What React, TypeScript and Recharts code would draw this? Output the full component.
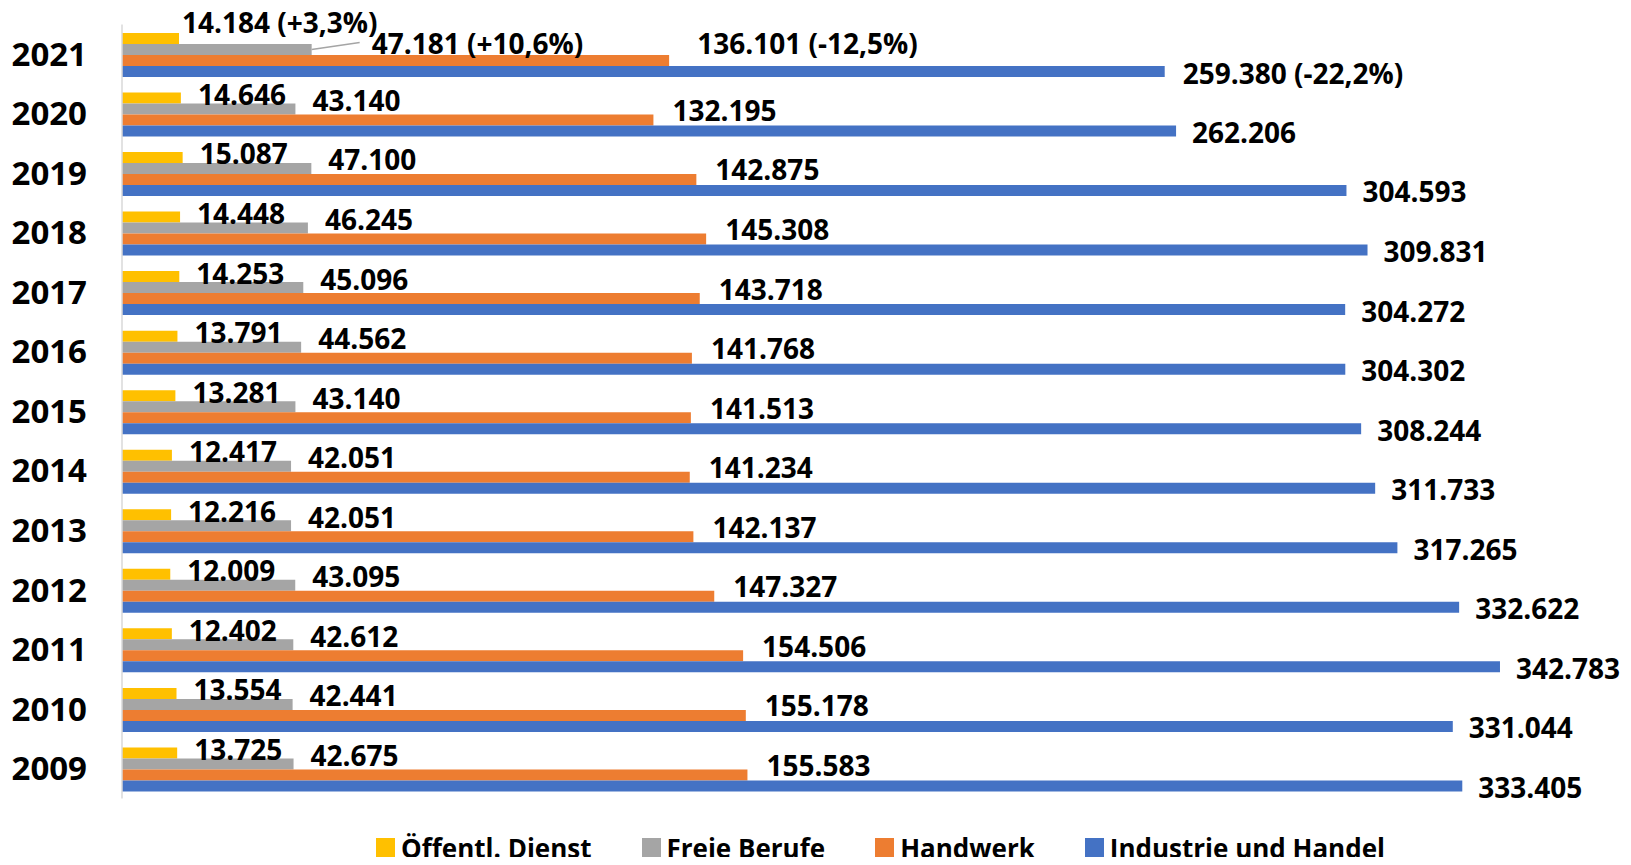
import React from 'react';
import { BarChart, Bar, XAxis, YAxis, Legend, LabelList } from 'recharts';

const years = ['2021', '2020', '2019', '2018', '2017', '2016', '2015', '2014', '2013', '2012', '2011', '2010', '2009'];
const oeffentlDienst = [14184, 14646, 15087, 14448, 14253, 13791, 13281, 12417, 12216, 12009, 12402, 13554, 13725];
const freieBerufe = [47181, 43140, 47100, 46245, 45096, 44562, 43140, 42051, 42051, 43095, 42612, 42441, 42675];
const handwerk = [136101, 132195, 142875, 145308, 143718, 141768, 141513, 141234, 142137, 147327, 154506, 155178, 155583];
const industrieHandel = [259380, 262206, 304593, 309831, 304272, 304302, 308244, 311733, 317265, 332622, 342783, 331044, 333405];
// change vs. previous year, shown only on the 2021 labels
const changes2021 = ['+3,3%', '+10,6%', '-12,5%', '-22,2%'];

const seriesNames = ['Öffentl. Dienst', 'Freie Berufe', 'Handwerk', 'Industrie und Handel'];
const seriesKeys = ['oeffentl', 'freie', 'handwerk', 'industrie'];
const colors = ['#FFC000', '#A5A5A5', '#ED7D31', '#4472C4'];

const data = years.map((year, i) => ({
  year,
  oeffentl: oeffentlDienst[i],
  freie: freieBerufe[i],
  handwerk: handwerk[i],
  industrie: industrieHandel[i],
}));

const FONT = "'Open Sans', 'DejaVu Sans', sans-serif";

const fmt = (v: number) => String(v).replace(/\B(?=(\d{3})+(?!\d))/g, '.');

// label offsets per series: [dx, dy] from bar end / bar centre
const labelOffsets = [[17, -3], [17, -8], [19, -9], [16, 2]];
const firstRowOffsets = [[3, -15], [60, -5], [28, -16], [18, 3]];

const makeLabel = (s: number) => (props: any) => {
  const vb = props.viewBox ?? props;
  const x = Number(vb.x ?? props.x);
  const y = Number(vb.y ?? props.y);
  const w = Number(vb.width ?? props.width);
  const h = Number(vb.height ?? props.height);
  const index = props.index;
  const endX = x + w;
  const cy = y + h / 2;
  const first = index === 0;
  const [dx, dy] = first ? firstRowOffsets[s] : labelOffsets[s];
  const text = first ? `${fmt(props.value)} (${changes2021[s]})` : fmt(props.value);
  return (
    <g>
      {first && s === 1 && (
        <line x1={endX} y1={cy} x2={endX + 48} y2={cy - 7} stroke="#A5A5A5" strokeWidth={1.5} />
      )}
      <text
        x={endX + dx}
        y={cy + dy + 10}
        fontFamily={FONT}
        fontWeight={700}
        fontSize={28}
        fill="#000"
      >
        {text}
      </text>
    </g>
  );
};

const YearTick = (props: any) => {
  const { y, payload } = props;
  return (
    <text x={87} y={y + 11.5} textAnchor="end" fontFamily={FONT} fontWeight={700} fontSize={33} fill="#000">
      {payload.value}
    </text>
  );
};

const renderLegend = () => (
  <div style={{ position: 'relative', height: 66.5 }}>
    <div
      style={{
        position: 'absolute',
        top: 36,
        left: 376,
        display: 'flex',
        gap: 50,
        lineHeight: '26px',
        fontFamily: FONT,
        fontWeight: 700,
        fontSize: 26,
        whiteSpace: 'nowrap',
      }}
    >
      {seriesNames.map((name, i) => (
        <div key={name} style={{ display: 'flex', alignItems: 'center', gap: 6 }}>
          <span style={{ width: 19, height: 19, background: colors[i], display: 'inline-block' }} />
          <span>{name}</span>
        </div>
      ))}
    </div>
  </div>
);

export default function App() {
  // cancel the default body margin so the chart fills the whole window
  return (
    <div style={{ width: 1631, height: 865, margin: -8 }}>
      <BarChart
        width={1631}
        height={865}
        data={data}
        layout="vertical"
        margin={{ top: 24.4, right: 102, bottom: 0, left: 0 }}
        barCategoryGap={8.5}
        barGap={0}
      >
        <XAxis type="number" domain={[0, 350000]} hide />
        <YAxis
          type="category"
          dataKey="year"
          width={122}
          axisLine={{ stroke: '#D9D9D9', strokeWidth: 1.5 }}
          tickLine={false}
          tick={<YearTick />}
          interval={0}
        />
        <Legend verticalAlign="bottom" content={renderLegend} wrapperStyle={{ left: 0, width: 1631 }} />
        {seriesKeys.map((key, s) => (
          <Bar key={key} dataKey={key} name={seriesNames[s]} fill={colors[s]} isAnimationActive={false}>
            <LabelList dataKey={key} content={makeLabel(s)} />
          </Bar>
        ))}
      </BarChart>
    </div>
  );
}
